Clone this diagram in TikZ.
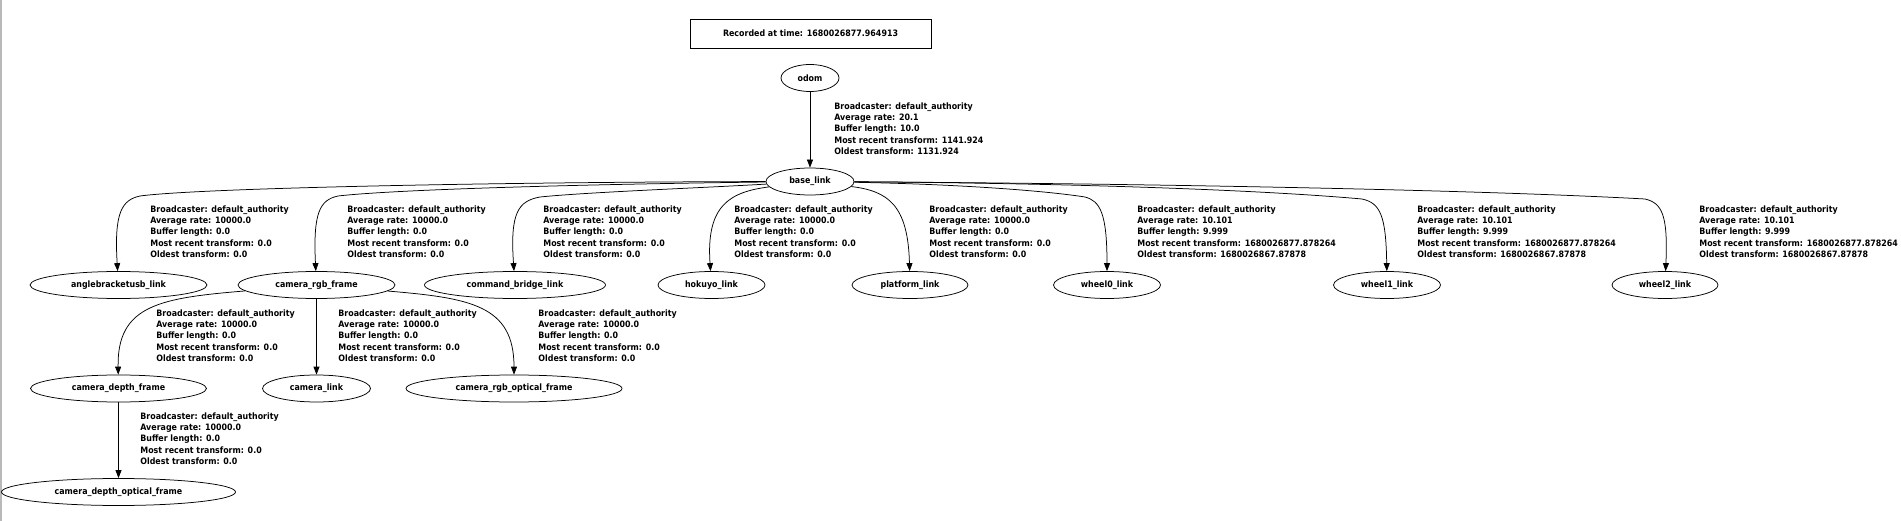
\documentclass[tikz,border=0pt]{standalone}
\usepackage{fontspec}
\setmainfont{DejaVu Sans}[FakeStretch=0.9]
\usetikzlibrary{shapes.geometric,arrows.meta}

\begin{document}
\begin{tikzpicture}[x=1pt, y=1pt, node distance=103.5pt, line width=0.75pt,
  font=\bfseries\fontsize{8.8}{11.25}\selectfont, >={Triangle[length=8pt,width=6pt]},
  frame node/.style={ellipse, draw, inner sep=0pt, minimum height=27pt, minimum width=#1},
  edge info/.style={anchor=west, align=left, inner sep=0pt},
  tf/.style={->}]%
  \useasboundingbox (0,0) rectangle (1901,-521);
  \draw[gray!55, line width=2pt] (1,0) -- (1,-521);

  \node[draw, inner sep=0pt, minimum width=241pt, minimum height=29pt] (stamp) at (810.5,-33.5) {Recorded at time: 1680026877.964913};
  \node[frame node=58pt] (odom) at (810,-78) {odom};
  \node[frame node=88pt] (base_link) [below of=odom] {base\_link};
  \draw[tf] (odom) -- (base_link);
  \node[edge info] (l0) at (834,-128.6) {Broadcaster: default\_authority\\Average rate: 20.1\\Buffer length: 10.0\\Most recent transform: 1141.924\\Oldest transform: 1131.924};

  \node[frame node=177pt] (anglebracketusb_link) [below of=base_link, xshift=-691.5pt] {anglebracketusb\_link};
  \node[frame node=157pt] (camera_rgb_frame) [below of=base_link, xshift=-493.5pt] {camera\_rgb\_frame};
  \node[frame node=181pt] (command_bridge_link) [below of=base_link, xshift=-295pt] {command\_bridge\_link};
  \node[frame node=107pt] (hokuyo_link) [below of=base_link, xshift=-98.5pt] {hokuyo\_link};
  \node[frame node=116pt] (platform_link) [below of=base_link, xshift=100pt] {platform\_link};
  \node[frame node=107pt] (wheel0_link) [below of=base_link, xshift=297pt] {wheel0\_link};
  \node[frame node=107pt] (wheel1_link) [below of=base_link, xshift=577pt] {wheel1\_link};
  \node[frame node=106pt] (wheel2_link) [below of=base_link, xshift=855pt] {wheel2\_link};
  \draw[tf] (base_link) .. controls (500,-182) and (200,-188) .. (140,-196) .. controls (122,-200) and (114,-212) .. (anglebracketusb_link);
  \draw[tf] (base_link) .. controls (600,-184) and (400,-189) .. (338,-196) .. controls (320,-200) and (313,-212) .. (camera_rgb_frame);
  \draw[tf] (base_link) .. controls (700,-188) and (590,-192) .. (540,-197) .. controls (518,-201) and (510,-213) .. (command_bridge_link);
  \draw[tf] (base_link) .. controls (730,-192) and (706,-205) .. (hokuyo_link);
  \draw[tf] (base_link) .. controls (888,-191) and (908,-205) .. (platform_link);
  \draw[tf] (base_link) .. controls (950,-184) and (1040,-190) .. (1085,-197) .. controls (1100,-201) and (1107,-213) .. (wheel0_link);
  \draw[tf] (base_link) .. controls (1050,-183) and (1250,-189) .. (1362,-199) .. controls (1380,-203) and (1386,-215) .. (wheel1_link);
  \draw[tf] (base_link) .. controls (1200,-184) and (1500,-191) .. (1645,-199) .. controls (1662,-203) and (1668,-215) .. (wheel2_link);
  \node[edge info] (l1) at (150,-231.6) {Broadcaster: default\_authority\\Average rate: 10000.0\\Buffer length: 0.0\\Most recent transform: 0.0\\Oldest transform: 0.0};
  \node[edge info] (l2) at (347,-231.6) {Broadcaster: default\_authority\\Average rate: 10000.0\\Buffer length: 0.0\\Most recent transform: 0.0\\Oldest transform: 0.0};
  \node[edge info] (l3) at (543,-231.6) {Broadcaster: default\_authority\\Average rate: 10000.0\\Buffer length: 0.0\\Most recent transform: 0.0\\Oldest transform: 0.0};
  \node[edge info] (l4) at (734,-231.6) {Broadcaster: default\_authority\\Average rate: 10000.0\\Buffer length: 0.0\\Most recent transform: 0.0\\Oldest transform: 0.0};
  \node[edge info] (l5) at (929,-231.6) {Broadcaster: default\_authority\\Average rate: 10000.0\\Buffer length: 0.0\\Most recent transform: 0.0\\Oldest transform: 0.0};
  \node[edge info] (l6) at (1137,-231.6) {Broadcaster: default\_authority\\Average rate: 10.101\\Buffer length: 9.999\\Most recent transform: 1680026877.878264\\Oldest transform: 1680026867.87878};
  \node[edge info] (l7) at (1417,-231.6) {Broadcaster: default\_authority\\Average rate: 10.101\\Buffer length: 9.999\\Most recent transform: 1680026877.878264\\Oldest transform: 1680026867.87878};
  \node[edge info] (l8) at (1699,-231.6) {Broadcaster: default\_authority\\Average rate: 10.101\\Buffer length: 9.999\\Most recent transform: 1680026877.878264\\Oldest transform: 1680026867.87878};

  \node[frame node=176pt] (camera_depth_frame) [below of=camera_rgb_frame, xshift=-198pt] {camera\_depth\_frame};
  \node[frame node=108pt] (camera_link) [below of=camera_rgb_frame] {camera\_link};
  \node[frame node=216pt] (camera_rgb_optical_frame) [below of=camera_rgb_frame, xshift=197.5pt] {camera\_rgb\_optical\_frame};
  \draw[tf] (camera_rgb_frame) .. controls (160,-298) and (117,-305) .. (camera_depth_frame);
  \draw[tf] (camera_rgb_frame) -- (camera_link);
  \draw[tf] (camera_rgb_frame) .. controls (470,-298) and (514,-305) .. (camera_rgb_optical_frame);
  \node[edge info] (l9) at (156,-335.6) {Broadcaster: default\_authority\\Average rate: 10000.0\\Buffer length: 0.0\\Most recent transform: 0.0\\Oldest transform: 0.0};
  \node[edge info] (l10) at (338,-335.6) {Broadcaster: default\_authority\\Average rate: 10000.0\\Buffer length: 0.0\\Most recent transform: 0.0\\Oldest transform: 0.0};
  \node[edge info] (l11) at (538,-335.6) {Broadcaster: default\_authority\\Average rate: 10000.0\\Buffer length: 0.0\\Most recent transform: 0.0\\Oldest transform: 0.0};

  \node[frame node=234pt] (camera_depth_optical_frame) [below of=camera_depth_frame] {camera\_depth\_optical\_frame};
  \draw[tf] (camera_depth_frame) -- (camera_depth_optical_frame);
  \node[edge info] (l12) at (140,-438.6) {Broadcaster: default\_authority\\Average rate: 10000.0\\Buffer length: 0.0\\Most recent transform: 0.0\\Oldest transform: 0.0};
\end{tikzpicture}
\end{document}
